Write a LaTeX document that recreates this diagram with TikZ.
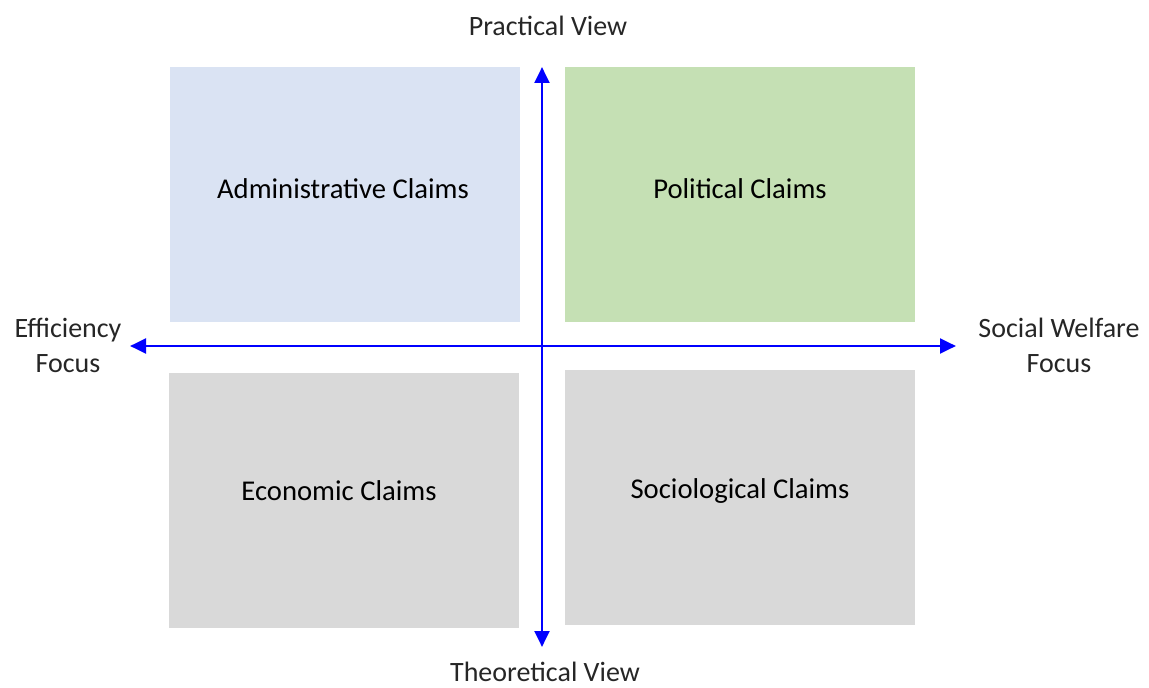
\documentclass[tikz,border=0pt]{standalone}
\usepackage{fontspec}
\setmainfont{Carlito}
\usetikzlibrary{arrows.meta}
\definecolor{adminblue}{HTML}{DAE3F3}
\definecolor{polgreen}{HTML}{C5E0B4}
\definecolor{claimgray}{HTML}{D9D9D9}
\definecolor{axisblue}{HTML}{0000FF}
\tikzset{xy/.style={x={#1},y={-#1}}}
\tikzset{claim/.style={fill=#1,draw=none,minimum width=262.5pt,minimum height=191.25pt,inner sep=0pt}}
\tikzset{claimtext/.style={font=\fontsize{21.5}{26}\selectfont,inner sep=0pt}}
\tikzset{axislabel/.style={font=\fontsize{21}{26}\selectfont,align=center,inner sep=0pt,text=black!85}}
\tikzset{axis/.style={draw=axisblue,line width=2.2pt,{Triangle[length=12pt,width=11pt]}-{Triangle[length=12pt,width=11pt]}}}

\begin{document}
\begin{tikzpicture}[xy=.75pt]%
    \path [use as bounding box] (0,0) rectangle (1149,688);
    % quadrants
    \path (345,194.5) node [claim=adminblue] (admin) {};
    \path (740,194.5) node [claim=polgreen] (pol) {};
    \path (344,500) node [claim=claimgray] (econ) {};
    \path (740,497) node [claim=claimgray] (socio) {};
    \path (343,189) node [claimtext] (admintext) {Administrative Claims};
    \path (740,189) node [claimtext] (poltext) {Political Claims};
    \path (339,491) node [claimtext] (econtext) {Economic Claims};
    \path (740,491) node [claimtext] (sociotext) {Sociological Claims};
    % axes
    \coordinate (top) at (542,67);
    \coordinate (bottom) at (542,647);
    \coordinate (left) at (130,346);
    \coordinate (right) at (956,346);
    \path [axis] (top) -- (bottom);
    \path [axis] (left) -- (right);
    \path (548,26) node [axislabel] (practical) {Practical View};
    \path (545,672) node [axislabel] (theoretical) {Theoretical View};
    \path (68,345.5) node [axislabel] (efficiency) {Efficiency\\Focus};
    \path (1059,345.5) node [axislabel] (welfare) {Social Welfare\\Focus};
\end{tikzpicture}
\end{document}
